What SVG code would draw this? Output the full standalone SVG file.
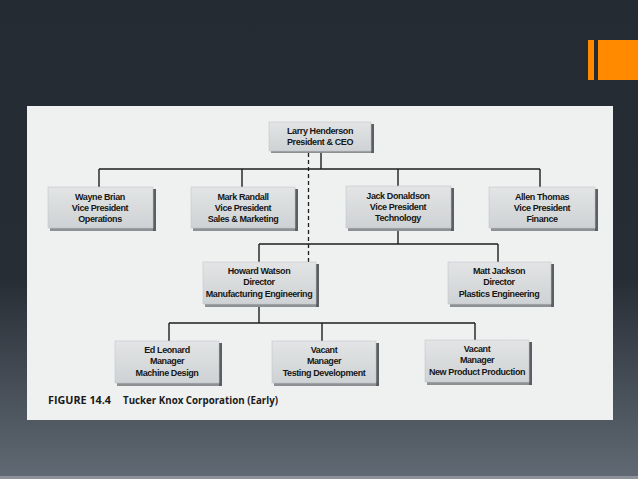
<svg xmlns="http://www.w3.org/2000/svg" width="638" height="479" viewBox="0 0 638 479">
<defs>
<linearGradient id="bg" x1="0" y1="0" x2="0" y2="1">
<stop offset="0" stop-color="#252b32"/>
<stop offset="0.58" stop-color="#272d35"/>
<stop offset="1" stop-color="#616a74"/>
</linearGradient>
<linearGradient id="boxfill" x1="0" y1="0" x2="0" y2="1">
<stop offset="0" stop-color="#e2e4e5"/>
<stop offset="1" stop-color="#cfd2d4"/>
</linearGradient>
<style>
.box{fill:url(#boxfill);stroke:#c4c7c9;stroke-width:0.6}
.sh{fill:#5c5f62}
.sb{fill:#8d9194}
.t{font-family:"Liberation Sans",Arial,sans-serif;font-size:9px;font-weight:bold;letter-spacing:-0.4px;fill:#161616;text-anchor:middle}
.ln{stroke:#1e1e1e;stroke-width:1.4;fill:none}
.dash{stroke:#1e1e1e;stroke-width:1.3;stroke-dasharray:4 3;fill:none}
.cap{font-family:"Open Sans","Liberation Sans",sans-serif;font-size:10px;font-weight:bold;fill:#1a1a1a}
</style>
</defs>
<rect x="0" y="0" width="638" height="479" fill="url(#bg)"/>
<rect x="0" y="476" width="638" height="3" fill="#8c9298"/>
<rect x="588" y="40" width="6" height="40" fill="#ff8a00"/>
<rect x="598" y="40" width="40" height="40" fill="#ff8a00"/>
<rect x="27" y="106" width="586" height="314" fill="#eff1f1"/>

<g id="connectors">
<path class="ln" d="M321 152V169M99 169H540M99 169V187M242 169V187M398 169V186M540 169V187"/>
<path class="ln" d="M398 230V244M259 244H498M259 244V262M498 244V262"/>
<path class="ln" d="M259 306V323M169 323H475M169 323V341M322 323V341M475 323V341"/>
<path class="dash" d="M308.5 153V262"/>
</g>

<g id="larry">
<rect class="sb" x="271" y="150" width="103" height="3"/><rect class="sh" x="371" y="124" width="3" height="29"/>
<rect class="box" x="269" y="122" width="102" height="29"/>
<text class="t" x="320" y="134">Larry Henderson</text>
<text class="t" x="320" y="145">President &amp; CEO</text>
</g>

<g id="wayne">
<rect class="sb" x="50" y="228" width="106" height="3"/><rect class="sh" x="153" y="189" width="3" height="42"/>
<rect class="box" x="48" y="187" width="105" height="41"/>
<text class="t" x="100" y="200">Wayne Brian</text>
<text class="t" x="100" y="211">Vice President</text>
<text class="t" x="100" y="222">Operations</text>
</g>

<g id="mark">
<rect class="sb" x="193" y="228" width="105" height="3"/><rect class="sh" x="295" y="189" width="3" height="42"/>
<rect class="box" x="191" y="187" width="104" height="41"/>
<text class="t" x="243" y="200">Mark Randall</text>
<text class="t" x="243" y="211">Vice President</text>
<text class="t" x="243" y="222">Sales &amp; Marketing</text>
</g>

<g id="jack">
<rect class="sb" x="348" y="228" width="106" height="3"/><rect class="sh" x="451" y="188" width="3" height="43"/>
<rect class="box" x="346" y="186" width="105" height="42"/>
<text class="t" x="398" y="199">Jack Donaldson</text>
<text class="t" x="398" y="210">Vice President</text>
<text class="t" x="398" y="221">Technology</text>
</g>

<g id="allen">
<rect class="sb" x="491" y="228" width="107" height="3"/><rect class="sh" x="595" y="189" width="3" height="42"/>
<rect class="box" x="489" y="187" width="106" height="41"/>
<text class="t" x="542" y="200">Allen Thomas</text>
<text class="t" x="542" y="211">Vice President</text>
<text class="t" x="542" y="222">Finance</text>
</g>

<g id="howard">
<rect class="sb" x="205" y="304" width="114" height="3"/><rect class="sh" x="316" y="264" width="3" height="43"/>
<rect class="box" x="203" y="262" width="113" height="42"/>
<text class="t" x="259" y="274">Howard Watson</text>
<text class="t" x="259" y="285">Director</text>
<text class="t" x="259" y="297">Manufacturing Engineering</text>
</g>

<g id="matt">
<rect class="sb" x="450" y="304" width="104" height="3"/><rect class="sh" x="551" y="264" width="3" height="43"/>
<rect class="box" x="448" y="262" width="103" height="42"/>
<text class="t" x="499" y="274">Matt Jackson</text>
<text class="t" x="499" y="285">Director</text>
<text class="t" x="499" y="297">Plastics Engineering</text>
</g>

<g id="ed">
<rect class="sb" x="117" y="383" width="105" height="3"/><rect class="sh" x="219" y="343" width="3" height="43"/>
<rect class="box" x="115" y="341" width="104" height="42"/>
<text class="t" x="167" y="353">Ed Leonard</text>
<text class="t" x="167" y="364">Manager</text>
<text class="t" x="167" y="376">Machine Design</text>
</g>

<g id="vacant-testing">
<rect class="sb" x="274" y="383" width="105" height="3"/><rect class="sh" x="376" y="343" width="3" height="43"/>
<rect class="box" x="272" y="341" width="104" height="42"/>
<text class="t" x="324" y="353">Vacant</text>
<text class="t" x="324" y="364">Manager</text>
<text class="t" x="324" y="376">Testing Development</text>
</g>

<g id="vacant-newproduct">
<rect class="sb" x="427" y="382" width="105" height="3"/><rect class="sh" x="529" y="342" width="3" height="43"/>
<rect class="box" x="425" y="340" width="104" height="42"/>
<text class="t" x="477" y="352">Vacant</text>
<text class="t" x="477" y="363">Manager</text>
<text class="t" x="477" y="375">New Product Production</text>
</g>

<text class="cap" x="48" y="404" textLength="63" lengthAdjust="spacingAndGlyphs">FIGURE 14.4</text>
<text class="cap" x="123" y="404" textLength="155" lengthAdjust="spacingAndGlyphs">Tucker Knox Corporation (Early)</text>
</svg>
